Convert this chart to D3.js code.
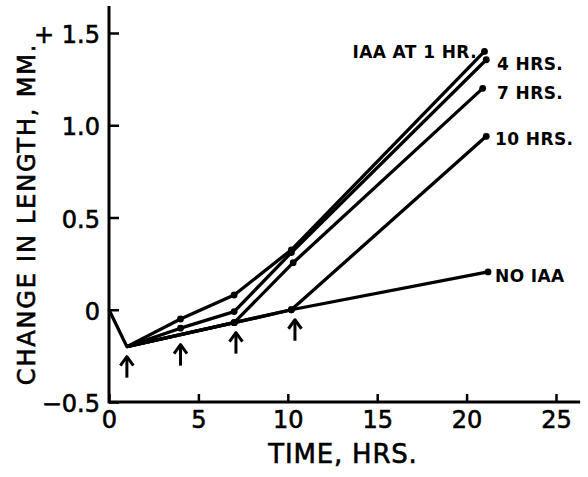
<!DOCTYPE html>
<html><head><meta charset="utf-8">
<script src="https://cdn.jsdelivr.net/npm/d3@7"></script>
<style>body{margin:0;background:#fff}svg{display:block}text{font-family:"DejaVu Sans",sans-serif;fill:#000}</style>
</head><body>
<script>
const xTicks = [0,5,10,15,20,25];
const yTicks = [-0.5,0,0.5,1.0,1.5];
const yTickLabels = ["\u22120.5","0","0.5","1.0","+ 1.5"];
const seriesNames = ["IAA AT 1 HR.","4 HRS.","7 HRS.","10 HRS.","NO IAA"];
const sIAA1 = [[1,-0.2],[4,-0.05],[7,0.08],[10.2,0.325],[21,1.40]];
const sIAA4 = [[1,-0.2],[4,-0.1],[7,-0.01],[10.2,0.31],[21.1,1.355]];
const sIAA7 = [[1,-0.2],[7,-0.07],[10.3,0.255],[20.9,1.20]];
const sIAA10 = [[1,-0.2],[7,-0.07],[10.2,0.0],[21.1,0.94]];
const sNoIAA = [[0,0],[1,-0.2],[7,-0.07],[10.2,0.0],[21.2,0.205]];
const arrowX = [1,4,7.1,10.4];
const arrowY = [-0.2,-0.135,-0.07,-0.0];

const W=588,H=477;
const svg=d3.select("body").append("svg").attr("width",W).attr("height",H);
const x=d3.scaleLinear().domain([0,25]).range([109,556]);
const y=d3.scaleLinear().domain([-0.5,1.5]).range([402,33]);
const thick=t=>t.attr("stroke","#000").attr("stroke-width",0.6);

// axes
const xAxis=d3.axisBottom(x).tickValues(xTicks).tickSize(-8).tickFormat(d=>d);
const gx=svg.append("g").attr("transform","translate(0,"+y(-0.5)+")").call(xAxis);
gx.select(".domain").remove();
gx.selectAll(".tick line").attr("stroke","#000").attr("stroke-width",2.5);
gx.selectAll("text").attr("font-size",24).attr("y",26).attr("dy",null).call(thick);
svg.append("line").attr("x1",x(0)).attr("x2",x(26.35)).attr("y1",y(-0.5)).attr("y2",y(-0.5)).attr("stroke","#000").attr("stroke-width",3);

const yAxis=d3.axisLeft(y).tickValues(yTicks).tickSize(-10).tickFormat((d,i)=>yTickLabels[i]);
const gy=svg.append("g").attr("transform","translate("+x(0)+",0)").call(yAxis);
gy.select(".domain").remove();
gy.selectAll(".tick line").attr("stroke","#000").attr("stroke-width",2.5);
gy.selectAll("text").attr("font-size",24).attr("x",-9).attr("dy","0.4em").call(thick);
svg.append("line").attr("x1",x(0)).attr("x2",x(0)).attr("y1",y(-0.5)+1.5).attr("y2",y(1.646)).attr("stroke","#000").attr("stroke-width",3);

// titles
svg.append("text").attr("x",343).attr("y",463).attr("text-anchor","middle").attr("font-size",26).attr("letter-spacing",0.8).call(thick).text("TIME, HRS.");
svg.append("text").attr("transform","translate(35,214) rotate(-90)").attr("text-anchor","middle").attr("font-size",24).attr("letter-spacing",1.8).call(thick).text("CHANGE IN LENGTH, MM.");

// lines
const line=d3.line().x(d=>x(d[0])).y(d=>y(d[1]));
const all=[sIAA1,sIAA4,sIAA7,sIAA10,sNoIAA];
all.forEach(s=>{
  svg.append("path").attr("d",line(s)).attr("fill","none").attr("stroke","#000").attr("stroke-width",3.3).attr("stroke-linejoin","round");
  svg.selectAll(null).data(s.filter(d=>d[0]>1)).enter().append("circle").attr("cx",d=>x(d[0])).attr("cy",d=>y(d[1])).attr("r",3.4).attr("fill","#000");
});

// labels
const lab=[[477,52,"end"],[497,64,"start"],[497,93,"start"],[495,139,"start"],[495,276,"start"]];
seriesNames.forEach((n,i)=>{
  svg.append("text").attr("x",lab[i][0]).attr("y",lab[i][1]).attr("dy","0.36em").attr("text-anchor",lab[i][2]).attr("font-size",17).attr("font-weight","bold").attr("letter-spacing",0.4).text(n);
});

// arrows
arrowX.forEach((ax,i)=>{
  const px=x(ax), tip=y(arrowY[i])+10;
  svg.append("line").attr("x1",px).attr("x2",px).attr("y1",tip+1).attr("y2",tip+21).attr("stroke","#000").attr("stroke-width",3);
  svg.append("path").attr("d",`M${px-6.5},${tip+9}L${px},${tip}L${px+6.5},${tip+9}`).attr("fill","none").attr("stroke","#000").attr("stroke-width",3).attr("stroke-linejoin","round");
});
</script>
</body></html>
